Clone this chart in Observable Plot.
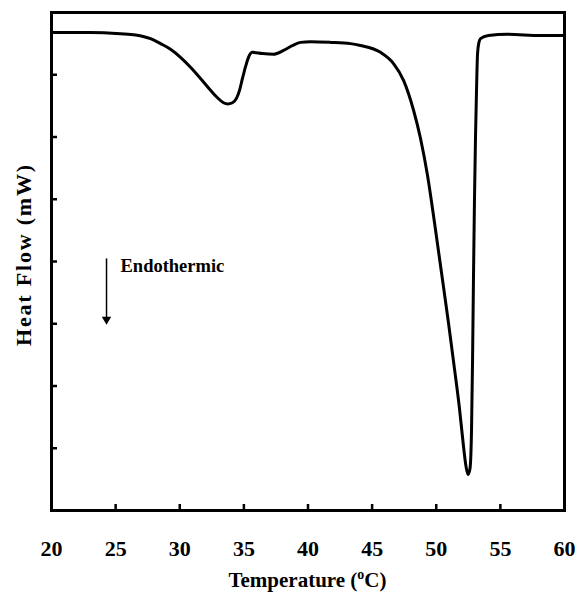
<!DOCTYPE html>
<html><head><meta charset="utf-8">
<script src="https://cdn.jsdelivr.net/npm/d3@7"></script>
<script src="https://cdn.jsdelivr.net/npm/@observablehq/plot@0.6"></script>
<style>body{margin:0;background:#fff}</style>
</head><body><div id="chart"></div>
<script>
// Temperature (°C)
const temperature = [20.00,23.04,25.38,26.55,27.72,28.50,29.28,30.06,30.84,31.62,32.40,32.94,33.41,33.72,34.11,34.42,34.66,34.89,35.13,35.36,35.67,36.45,37.31,38.09,38.79,39.42,40.20,41.75,43.31,44.09,45.65,46.67,47.45,48.23,48.77,49.32,49.86,50.41,50.95,51.42,51.81,52.12,52.32,52.48,52.63,52.75,52.83,52.90,52.98,53.06,53.14,53.22,53.33,53.45,54.07,55.56,58.13,59.92];
// Heat flow (arbitrary units, axis has no labels)
const heatFlow = [7.68,7.68,7.66,7.64,7.58,7.50,7.41,7.28,7.12,6.94,6.75,6.63,6.55,6.53,6.55,6.62,6.75,6.94,7.13,7.28,7.36,7.34,7.33,7.39,7.47,7.52,7.53,7.52,7.50,7.47,7.36,7.18,6.91,6.43,5.98,5.38,4.63,3.82,3.02,2.28,1.64,1.04,0.71,0.58,0.67,1.29,2.41,3.69,4.98,5.99,6.75,7.34,7.52,7.58,7.63,7.65,7.63,7.63];
const xTicks = [20,25,30,35,40,45,50,55,60];
const yTicks = [1,2,3,4,5,6,7];
const xTitle = ["Temperature (", "o", "C)"];
const yTitle = "Heat Flow (mW)";
const noteText = "Endothermic";
const noteX = [25.38];
const noteY = [3.92];
const arrowX = [24.29];
const arrowY1 = [4.05];
const arrowY2 = [3.10];
const arrowTipY = [3.07];

const data = temperature.map((t, i) => ({t, h: heatFlow[i]}));
const font = "'Liberation Serif', 'Times New Roman', serif";

const plot = Plot.plot({
  width: 584, height: 596,
  marginLeft: 51, marginRight: 20, marginTop: 12, marginBottom: 86,
  style: {fontFamily: font, fontWeight: "bold", color: "black", background: "white"},
  x: {domain: [20, 60]},
  y: {domain: [0, 8]},
  marks: [
    Plot.line(data, {x: "t", y: "h", stroke: "black", strokeWidth: 3, curve: "monotone-x"}),
    Plot.axisX({ticks: xTicks, tickSize: -6, tickPadding: 36, fontSize: 22, fontWeight: "bold", strokeWidth: 2.5, label: null}),
    Plot.axisY({ticks: yTicks, tickSize: -6, tickFormat: () => "", strokeWidth: 2.5, label: null}),
    Plot.frame({stroke: "black", strokeWidth: 3}),
    Plot.link([0], {x1: () => arrowX[0], x2: () => arrowX[0], y1: () => arrowY1[0], y2: () => arrowY2[0], stroke: "black", strokeWidth: 1.5}),
    Plot.dot([0], {x: () => arrowX[0], y: () => arrowTipY[0], symbol: "triangle", r: 3.5, fill: "black", stroke: "none", rotate: 180}),
    Plot.text([noteText], {x: () => noteX[0], y: () => noteY[0], text: d => d, textAnchor: "start", fontSize: 18.5, fontWeight: "bold", fill: "black"}),
    Plot.text([yTitle], {frameAnchor: "left", textAnchor: "middle", rotate: -90, dx: -28, dy: -7, text: d => d, fontSize: 22, fontWeight: "bold", fill: "black"})
  ]
});

const svg = d3.select(plot);
svg.selectAll("text").filter(function() { return this.textContent === yTitle; }).style("letter-spacing", "1.8px");

const xs = plot.scale("x");
const cx = (xs.range[0] + xs.range[1]) / 2;
const t = svg.append("text")
  .attr("x", cx).attr("y", 587)
  .attr("text-anchor", "middle")
  .attr("font-family", font).attr("font-weight", "bold").attr("font-size", 21).attr("fill", "black");
t.append("tspan").text(xTitle[0]);
t.append("tspan").attr("font-size", 14).attr("dy", -8).text(xTitle[1]);
t.append("tspan").attr("dy", 8).text(xTitle[2]);

document.getElementById("chart").appendChild(plot);
</script>
</body></html>
